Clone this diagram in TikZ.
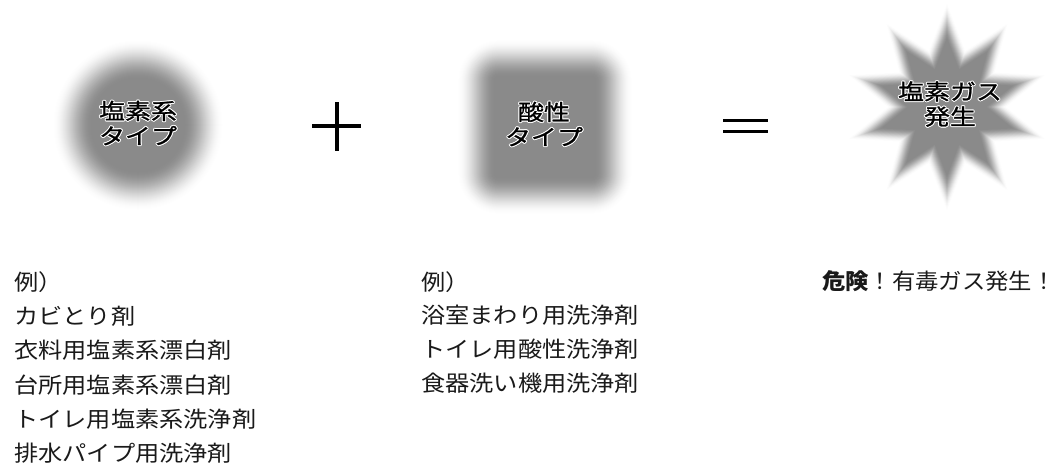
\documentclass[tikz,border=0pt]{standalone}
\usepackage{fontspec}
\usetikzlibrary{calc}
\newfontfamily\jp{Noto Sans CJK JP}[FakeStretch=1.1]
\newfontfamily\jpn{Noto Sans CJK JP}[FakeStretch=1.06]
\newfontfamily\jpw{Noto Sans CJK JP}[FakeStretch=1.18,FakeBold=1]
\definecolor{core}{HTML}{8A8A8A}
\definecolor{txt}{HTML}{1A1A1A}
\newcommand\hl[1]{\leavevmode\setbox0\hbox{#1}%
  \foreach \a in {0,45,...,315}{%
    \pgfmathsetlengthmacro\dx{1.0pt*cos(\a)}%
    \pgfmathsetlengthmacro\dy{1.0pt*sin(\a)}%
    \rlap{\kern\dx\raise\dy\hbox{\color{white}\copy0}}}%
  \box0}
\tikzset{
  lbl/.style={anchor=west, inner sep=0pt, font=\jp\fontsize{22}{26}\selectfont, text=txt},
  shp/.style={align=center, inner sep=0pt, text=black, font=\jpw\fontsize{22}{25}\selectfont},
  opline/.style={line width=3.3pt, draw=black}
}
\begin{document}
\begin{tikzpicture}[x=1pt,y=-1pt]
\useasboundingbox (0,0) rectangle (1062,464);
\fill[white] (0,0) rectangle (1062,464);
% blurred disc
\coordinate (disc) at (138,125);
\foreach \i in {0,...,40}{
  \pgfmathsetmacro\t{\i/40}
  \pgfmathsetmacro\p{100*(3*\t*\t-2*\t*\t*\t)}
  \fill[core!\p!white] (disc) circle ({86-40*\t});
}
% blurred square
\coordinate (sq) at (545,127);
\foreach \i in {0,...,40}{
  \pgfmathsetmacro\t{\i/40}
  \pgfmathsetmacro\p{100*(3*\t*\t-2*\t*\t*\t)}
  \pgfmathsetmacro\h{88-38*\t}
  \pgfmathsetmacro\rc{max(\h-46,1)}
  \fill[core!\p!white, rounded corners=\rc pt] ($(sq)+(-\h,-\h)$) rectangle ($(sq)+(\h,\h)$);
}
% blurred star
\coordinate (st) at (947,107);
\foreach \i in {0,...,30}{
  \pgfmathsetmacro\t{\i/30}
  \pgfmathsetmacro\p{100*(3*\t*\t-2*\t*\t*\t)}
  \pgfmathsetmacro\s{1.05-0.39*\t}
  \fill[core!\p!white] ($(st)+(90:100*\s)$)
    \foreach \k [evaluate=\k as \rr using {mod(\k,2)==1 ? 57*\s : 100*\s}] in {1,...,19}{ -- ($(st)+({90+18*\k}:\rr)$)} -- cycle;
}
% texts inside shapes
\node[shp] (chl) at (138,123) {\hl{塩素系}\\\hl{タイプ}};
\node[shp] (acd) at (544,124) {\hl{酸性}\\\hl{タイプ}};
\node[shp] (gas) at (950,104) {\hl{塩素ガス}\\\hl{発生}};
% operators
\coordinate (pl) at (337,126);
\draw[opline] ($(pl)+(-25,0)$) -- ($(pl)+(24,0)$);
\draw[opline] ($(pl)+(0,-24)$) -- ($(pl)+(0,25)$);
\coordinate (eq) at (745,126);
\draw[opline] ($(eq)+(-22,-5.5)$) -- ($(eq)+(23,-5.5)$);
\draw[opline] ($(eq)+(-22,5.5)$) -- ($(eq)+(23,5.5)$);
% left list
\node[lbl] (l0) at (14,282) {例）};
\node[lbl] (l1) at (14,316) {カビとり剤};
\node[lbl] (l2) at (14,350) {衣料用塩素系漂白剤};
\node[lbl] (l3) at (14,385) {台所用塩素系漂白剤};
\node[lbl] (l4) at (14,419) {トイレ用塩素系洗浄剤};
\node[lbl] (l5) at (14,453) {排水パイプ用洗浄剤};
% middle list
\node[lbl] (m0) at (421,282) {例）};
\node[lbl] (m1) at (421,315) {浴室まわり用洗浄剤};
\node[lbl] (m2) at (421,349) {トイレ用酸性洗浄剤};
\node[lbl] (m3) at (421,383) {食器洗い機用洗浄剤};
% right
\node[lbl, font=\jpn\fontsize{22}{26}\selectfont] (r0) at (822,281) {{\bfseries 危険}！有毒ガス発生！};
\end{tikzpicture}
\end{document}
